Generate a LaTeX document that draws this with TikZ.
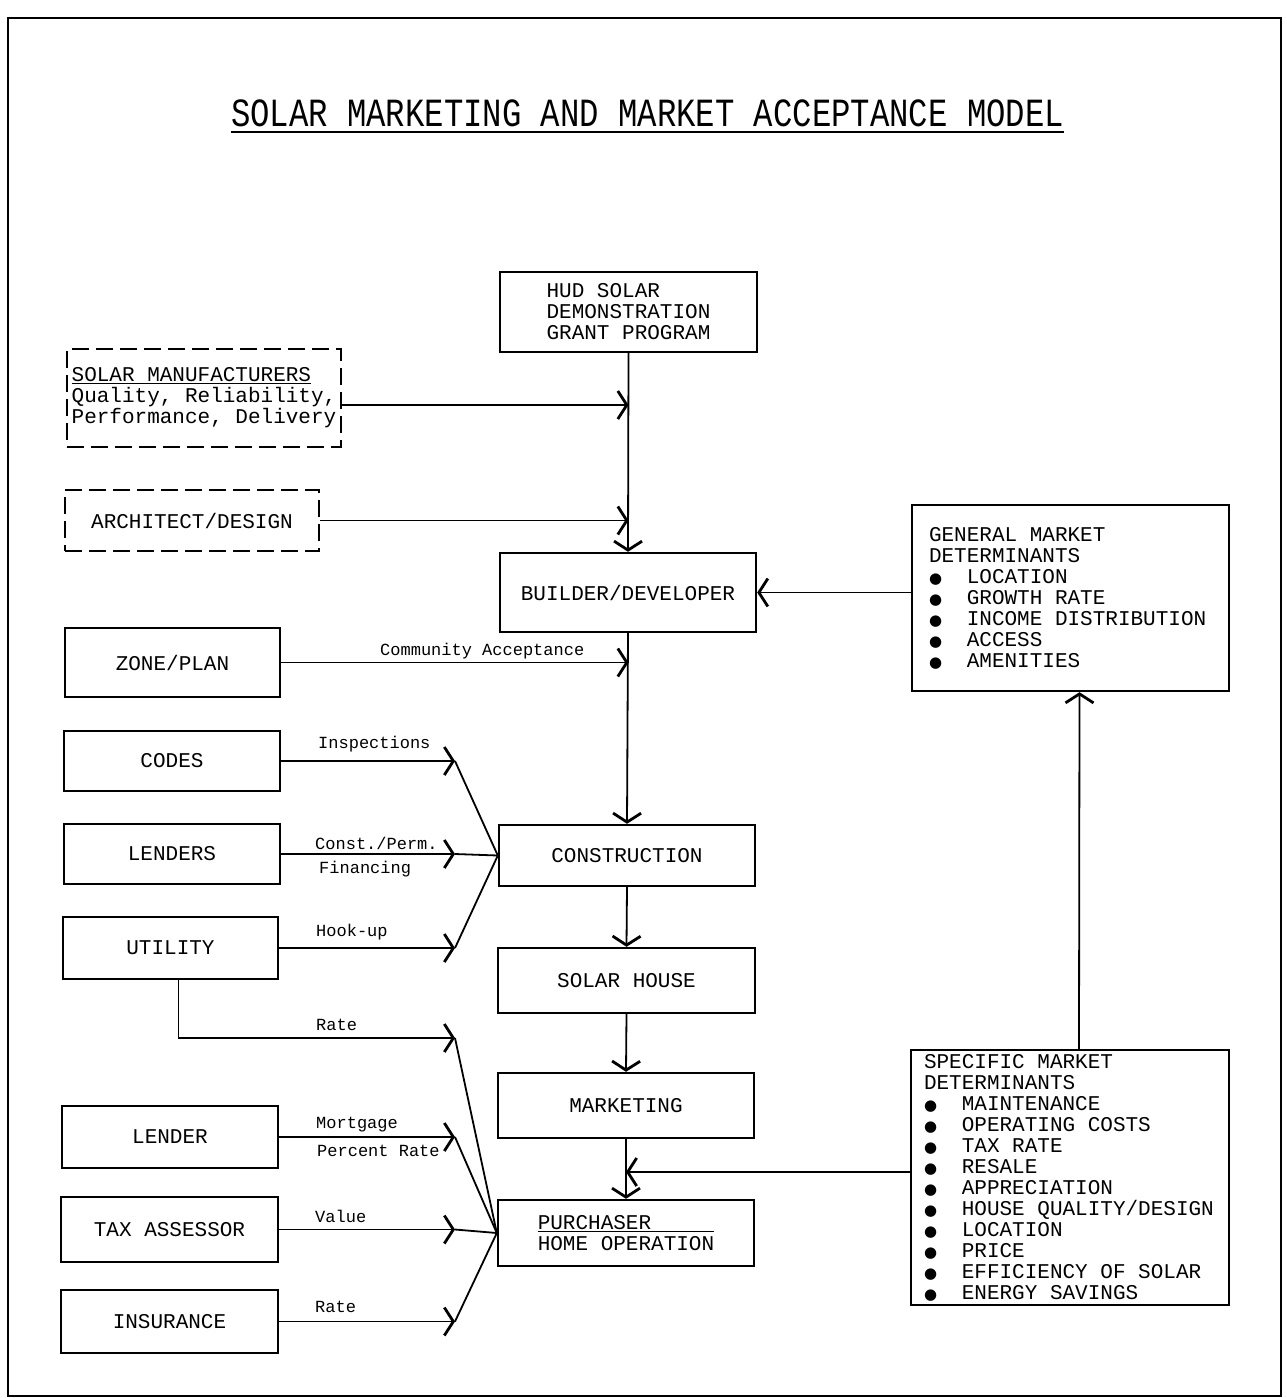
\documentclass[tikz,border=0pt]{standalone}
\usepackage{graphicx}
\usepackage{fontspec}
\setmainfont{Liberation Mono}[WordSpace={1,0,0}]
\newfontfamily\bulletfont{DejaVu Sans}
\usetikzlibrary{arrows.meta}
\newcommand{\bul}{\makebox[1.8em][l]{\fontsize{15}{15}\bulletfont ●}}

\begin{document}
\begin{tikzpicture}[x=1pt, y=-1pt]
    \tikzset{
        box/.style={draw, line width=2.4pt, font=\fontsize{21}{21}\selectfont, align=center, inner sep=0pt},
        dashbox/.style={box, dash pattern=on 17pt off 7pt},
        listbox/.style={box, align=left, execute at begin node={\spaceskip=0pt\xspaceskip=0pt}},
        lbl/.style={font=\fontsize{17}{17}\selectfont, anchor=west, inner sep=0pt},
        link/.style={line width=1.8pt},
        arr/.style={link, -{Straight Barb[length=9pt, width=28pt, line width=2.8pt]}}
    }

    \useasboundingbox (0,0) rectangle (1287,1398);
    \draw[line width=2.5pt] (8,18) rectangle (1281,1396);

    % --- TITLE ---
    \node[inner sep=0pt, font=\fontsize{40}{40}\selectfont] (title) at (647.5,113)
        {\scalebox{0.807}[1]{SOLAR MARKETING AND MARKET ACCEPTANCE MODEL}};
    \draw[line width=2.5pt] ([yshift=-6pt]title.base west) -- ([yshift=-6pt]title.base east);

    % --- MAIN CHAIN ---
    \node[box, align=left, minimum width=257, minimum height=80] (hud) at (628.5,312)
        {HUD SOLAR\\DEMONSTRATION\\GRANT PROGRAM};
    \node[box, minimum width=256, minimum height=79] (builder) at (628,592.5) {BUILDER/DEVELOPER};
    \node[box, minimum width=256, minimum height=61] (construction) at (627,855.5) {CONSTRUCTION};
    \node[box, minimum width=257, minimum height=65] (house) at (626.5,980.5) {SOLAR HOUSE};
    \node[box, minimum width=256, minimum height=65] (marketing) at (626,1105.5) {MARKETING};
    \node[box, align=left, minimum width=256, minimum height=66] (purchaser) at (626,1233)
        {\underline{PURCHASER\hphantom{xxxxx}}\\HOME OPERATION};

    % --- DASHED INPUTS ---
    \node[dashbox, align=left, minimum width=274, minimum height=98] (manuf) at (204,398)
        {\underline{SOLAR MANUFACTURERS}\\Quality, Reliability,\\Performance, Delivery};
    \node[dashbox, minimum width=254, minimum height=61] (arch) at (192,520.5) {ARCHITECT/DESIGN};

    % --- LEFT COLUMN ---
    \node[box, minimum width=215, minimum height=69] (zone) at (172.5,662.5) {ZONE/PLAN};
    \node[box, minimum width=216, minimum height=60] (codes) at (172,761) {CODES};
    \node[box, minimum width=216, minimum height=60] (lenders) at (172,854) {LENDERS};
    \node[box, minimum width=215, minimum height=62] (utility) at (170.5,948) {UTILITY};
    \node[box, minimum width=216, minimum height=62] (lender) at (170,1137) {LENDER};
    \node[box, minimum width=217, minimum height=65] (tax) at (169.5,1229.5) {TAX ASSESSOR};
    \node[box, minimum width=217, minimum height=63] (insurance) at (169.5,1321.5) {INSURANCE};

    % --- MARKET DETERMINANTS ---
    \node[listbox, text width=283, minimum width=317, minimum height=186] (general) at (1070.5,598)
        {GENERAL MARKET\\DETERMINANTS\\
         \bul LOCATION\\\bul GROWTH RATE\\\bul INCOME DISTRIBUTION\\\bul ACCESS\\\bul AMENITIES};
    \node[listbox, text width=292, minimum width=318, minimum height=255] (specific) at (1070,1177.5)
        {SPECIFIC MARKET\\DETERMINANTS\\
         \bul MAINTENANCE\\\bul OPERATING COSTS\\\bul TAX RATE\\\bul RESALE\\\bul APPRECIATION\\
         \bul HOUSE QUALITY/DESIGN\\\bul LOCATION\\\bul PRICE\\\bul EFFICIENCY OF SOLAR\\
         \bul ENERGY SAVINGS};

    % junctions
    \coordinate (jm) at (628.5,405);
    \coordinate (jc) at (455,855.5);
    \coordinate (jr) at (455,1038);
    \coordinate (jp) at (455,1233);
    \coordinate (js) at (626,1172);

    % --- CONNECTORS ---
    \draw[arr] (hud.south) -- (builder.north);
    \draw[arr] (manuf.east |- jm) -- (jm);
    \draw[arr] (arch.east) -- (arch.east -| hud.south);
    \draw[arr] (general.west |- builder.east) -- (builder.east);
    \draw[arr] (zone.east) -- (zone.east -| hud.south);
    \draw[arr] (builder.south) -- (construction.north);
    \draw[arr] (construction.south) -- (house.north);
    \draw[arr] (house.south) -- (marketing.north);
    \draw[arr] (marketing.south) -- (purchaser.north);
    \draw[arr] (specific.west |- js) -- (js);
    \draw[arr] ([xshift=9pt]specific.north) -- ([xshift=9pt]general.south);

    % into construction
    \foreach \src in {codes, lenders, utility} {
        \draw[arr] (\src.east) -- (\src.east -| jc);
        \draw[link] (\src.east -| jc) -- (construction.west);
    }

    % into purchaser
    \draw[arr] ([xshift=8pt]utility.south) |- (jr);
    \draw[link] (jr) -- (purchaser.west);
    \foreach \src in {lender, tax, insurance} {
        \draw[arr] (\src.east) -- (\src.east -| jp);
        \draw[link] (\src.east -| jp) -- (purchaser.west);
    }

    % --- LABELS ---
    \node[lbl] (lcomm) at (380,651) {Community Acceptance};
    \node[lbl] (linsp) at (318,744) {Inspections};
    \node[lbl] (lconst) at (315,843) {Const./Perm.};
    \node[lbl] (lfin) at (319,869) {Financing};
    \node[lbl] (lhook) at (316,932) {Hook-up};
    \node[lbl] (lrate) at (316,1025) {Rate};
    \node[lbl] (lmort) at (316,1125) {Mortgage};
    \node[lbl] (lperc) at (317,1151) {Percent Rate};
    \node[lbl] (lval) at (315,1216) {Value};
    \node[lbl] (lins) at (315,1307) {Rate};

\end{tikzpicture}
\end{document}
